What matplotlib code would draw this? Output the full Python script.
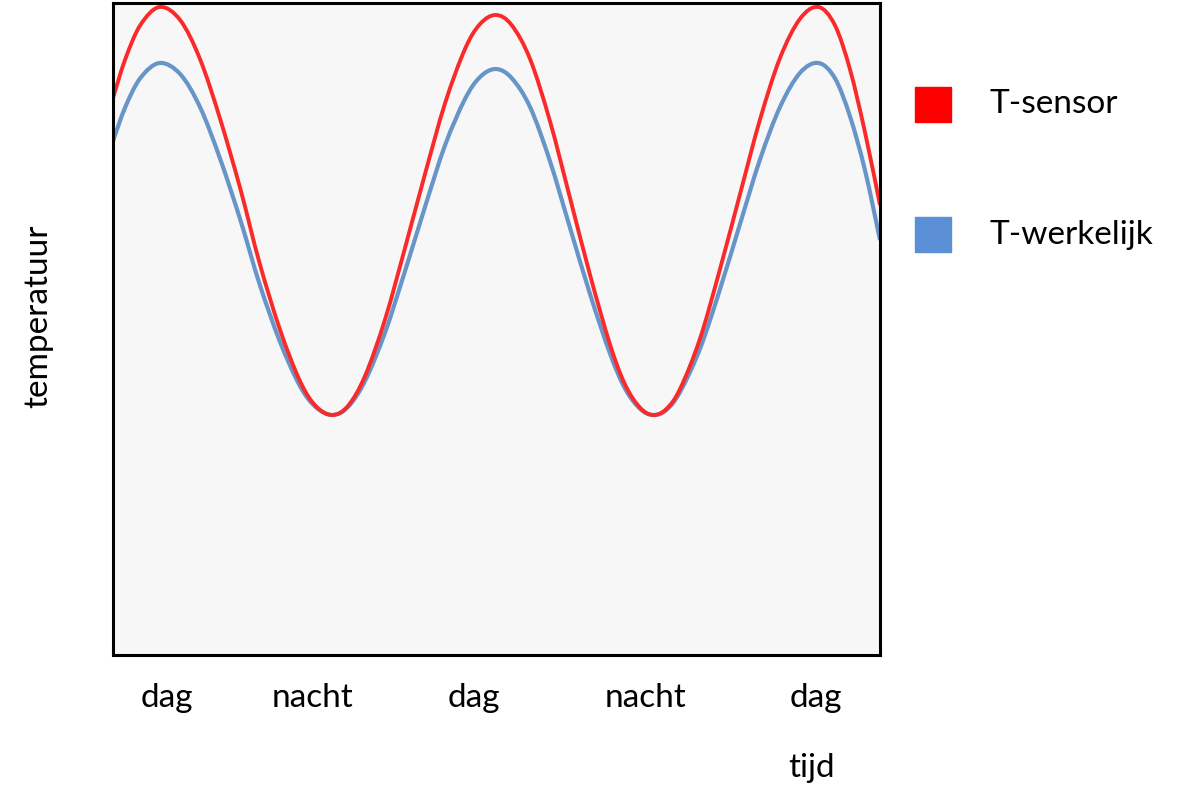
"""
Temperatuur van sensor vs. werkelijke temperatuur over dag/nacht.
"""

import matplotlib
matplotlib.use('Agg')
import matplotlib.pyplot as plt
from matplotlib.patches import Rectangle, PathPatch
from matplotlib.path import Path

plt.rcParams['font.family'] = ['Lato', 'DejaVu Sans']

# tijd in uren
tijd = [0.0, 0.9, 2.0, 3.4, 4.9, 6.35, 7.8, 9.3, 10.7, 12.2, 13.65, 14.8,
        16.0, 17.15, 18.4, 19.85, 21.3, 22.8, 24.25, 25.7, 26.8, 27.95,
        29.1, 30.45, 31.9, 33.35, 34.85, 36.3, 37.4, 38.5, 39.45, 40.4,
        41.4, 42.85, 44.3, 45.8, 47.25, 48.7, 50.15, 51.5, 52.7, 53.8,
        54.9, 56.0]

t_sensor = [27.85, 29.8, 31.5, 32.4, 31.75, 29.8, 26.85, 23.3, 19.6, 16.25,
            13.7, 12.45, 12.0, 12.45, 13.95, 16.75, 20.3, 24.1, 27.6, 30.3,
            31.55, 32.0, 31.5, 29.8, 26.7, 22.9, 18.95, 15.5, 13.5, 12.35,
            12.0, 12.3, 13.3, 15.8, 19.25, 23.1, 26.8, 29.85, 31.8, 32.4,
            31.5, 29.3, 26.15, 22.5]

t_werkelijk = [25.7, 27.4, 28.85, 29.6, 29.05, 27.4, 24.85, 21.75, 18.55,
               15.65, 13.45, 12.4, 12.0, 12.4, 13.7, 16.1, 19.15, 22.45,
               25.5, 27.8, 28.9, 29.3, 28.85, 27.4, 24.7, 21.4, 18.0, 15.05,
               13.3, 12.3, 12.0, 12.25, 13.15, 15.3, 18.25, 21.6, 24.8, 27.4,
               29.1, 29.6, 28.85, 26.95, 24.25, 20.75]

tick_pos = [3.95, 14.6, 26.35, 38.85, 51.3]
tick_labels = ['dag', 'nacht', 'dag', 'nacht', 'dag']

kleur_sensor = '#fa2a2a'
kleur_werkelijk = '#6895c8'


def gladde_lijn(x, y):
    # vloeiende lijn door de punten (Catmull-Rom als Bezier, zoals Excel)
    n = len(x)
    verts = [(x[0], y[0])]
    codes = [Path.MOVETO]
    for i in range(n - 1):
        i0 = max(i - 1, 0)
        i3 = min(i + 2, n - 1)
        c1 = (x[i] + (x[i + 1] - x[i0]) / 6, y[i] + (y[i + 1] - y[i0]) / 6)
        c2 = (x[i + 1] - (x[i3] - x[i]) / 6, y[i + 1] - (y[i3] - y[i]) / 6)
        verts += [c1, c2, (x[i + 1], y[i + 1])]
        codes += [Path.CURVE4] * 3
    return Path(verts, codes)


fig = plt.figure(figsize=(11.82, 7.99), dpi=100)
ax = fig.add_axes([113 / 1182, 144 / 799, 767 / 1182, 652 / 799])
ax.set_facecolor('#f7f7f7')

ax.add_patch(PathPatch(gladde_lijn(tijd, t_werkelijk), facecolor='none',
                       edgecolor=kleur_werkelijk, linewidth=3.0))
ax.add_patch(PathPatch(gladde_lijn(tijd, t_sensor), facecolor='none',
                       edgecolor=kleur_sensor, linewidth=2.8))

ax.set_xlim(0, 56)
ax.set_ylim(0, 32.6)
ax.set_yticks([])
ax.set_xticks(tick_pos)
ax.set_xticklabels(tick_labels, fontsize=24)
ax.tick_params(axis='x', length=0, pad=20)

for sp in ax.spines.values():
    sp.set_linewidth(2.2)
    sp.set_color('black')
    sp.set_zorder(5)

# as-titels
fig.text(38 / 1182, 1 - 316 / 799, 'temperatuur', rotation=90,
         ha='center', va='center', fontsize=24)
fig.text(812 / 1182, 1 - 768 / 799, 'tijd', ha='center', va='center',
         fontsize=24)

# legenda
fig.add_artist(Rectangle((915 / 1182, 1 - 122 / 799), 36 / 1182, 35 / 799,
                         transform=fig.transFigure, color='#ff0000'))
fig.add_artist(Rectangle((915 / 1182, 1 - 252 / 799), 36 / 1182, 35 / 799,
                         transform=fig.transFigure, color='#5b8fd6'))
fig.text(990 / 1182, 1 - 104 / 799, 'T-sensor', ha='left', va='center',
         fontsize=24)
fig.text(990 / 1182, 1 - 235 / 799, 'T-werkelijk', ha='left', va='center',
         fontsize=24)

fig.savefig('out.png', dpi=100)
